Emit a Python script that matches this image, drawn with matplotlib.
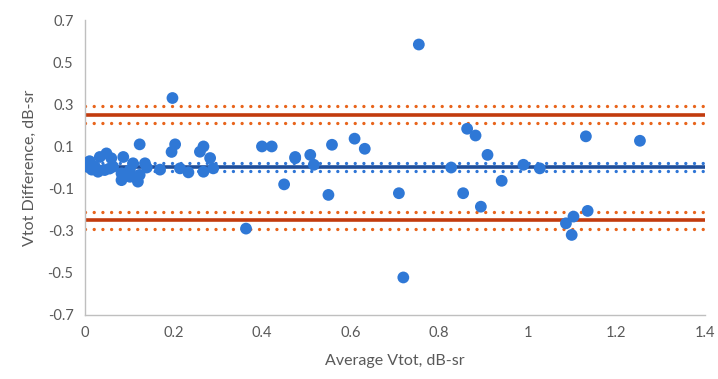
import matplotlib.pyplot as plt
import numpy as np

# Bland-Altman style data
avg_vtot = [0.0, 0.011, 0.023, 0.034, 0.049, 0.06, 0.064, 0.045, 0.03, 0.087,
            0.083, 0.083, 0.102, 0.109, 0.124, 0.124, 0.136, 0.102, 0.12, 0.14,
            0.17, 0.004, 0.016, 0.056,
            0.198, 0.204, 0.196, 0.268, 0.26, 0.283, 0.215, 0.234, 0.268, 0.29,
            0.364, 0.40, 0.422, 0.45, 0.475, 0.475, 0.509, 0.517, 0.55, 0.558,
            0.609, 0.632, 0.709, 0.719, 0.754, 0.827, 0.854, 0.863, 0.882, 0.894,
            0.909, 0.941, 0.99, 1.027, 1.086, 1.099, 1.103, 1.131, 1.135, 1.253]
diff_vtot = [0.005, 0.03, 0.004, 0.05, 0.067, 0.044, 0.004, -0.012, -0.02, 0.05,
             -0.028, -0.06, -0.012, 0.02, 0.11, -0.035, 0.02, -0.044, -0.067, 0.0,
             -0.01, 0.02, -0.01, -0.005,
             0.33, 0.11, 0.074, 0.1, 0.075, 0.045, -0.004, -0.023, -0.02, -0.004,
             -0.29, 0.1, 0.1, -0.08, 0.044, 0.05, 0.06, 0.013, -0.13, 0.108,
             0.137, 0.089, -0.122, -0.522, 0.584, 0.0, -0.122, 0.184, 0.152, -0.186,
             0.06, -0.063, 0.013, -0.004, -0.265, -0.32, -0.233, 0.148, -0.206, 0.127]

mean_diff = 0.003
mean_ci = [0.022, -0.016]
loa = [0.25, -0.25]
loa_ci = [0.29, 0.21, -0.21, -0.29]

fig = plt.figure(figsize=(7.18, 3.79), dpi=100)
ax = fig.add_axes([0.118, 0.169, 0.864, 0.778])

x_line = [0, 1.4]
dots = (0, (0.01, 2.6))
for v in loa_ci:
    ax.plot(x_line, [v, v], color='#E8641B', lw=2.4, ls=dots,
            dash_capstyle='round', zorder=2)
for v in loa:
    ax.plot(x_line, [v, v], color='#C23B0E', lw=2.6, zorder=2)
for v in mean_ci:
    ax.plot(x_line, [v, v], color='#2E75D6', lw=2.4, ls=dots,
            dash_capstyle='round', zorder=2)
ax.plot(x_line, [mean_diff, mean_diff], color='#1F4E9A', lw=2.6, zorder=2)

ax.scatter(avg_vtot, diff_vtot, s=72, color='#2F78D6', edgecolors='none', zorder=3)

ax.set_xlim(0, 1.4)
ax.set_ylim(-0.7, 0.7)
ax.set_xticks(np.arange(0, 1.41, 0.2))
ax.set_xticklabels(['0', '0.2', '0.4', '0.6', '0.8', '1', '1.2', '1.4'])
ax.set_yticks([0.7, 0.5, 0.3, 0.1, -0.1, -0.3, -0.5, -0.7])
ax.set_yticklabels(['0.7', '0.5', '0.3', '0.1', '-0.1', '-0.3', '-0.5', '-0.7'])

for s in ['top', 'right']:
    ax.spines[s].set_visible(False)
for s in ['left', 'bottom']:
    ax.spines[s].set_color('#BFBFBF')
    ax.spines[s].set_linewidth(1.0)
ax.tick_params(length=0, labelsize=10.5, labelcolor='#595959', pad=8)
for lab in ax.get_xticklabels() + ax.get_yticklabels():
    lab.set_family('Lato')

ax.set_xlabel('Average Vtot, dB-sr', fontsize=11.5, color='#595959', family='Lato', labelpad=10)
ax.set_ylabel('Vtot Difference, dB-sr', fontsize=11.5, color='#595959', family='Lato', labelpad=8)

fig.savefig('out.png', dpi=100)
